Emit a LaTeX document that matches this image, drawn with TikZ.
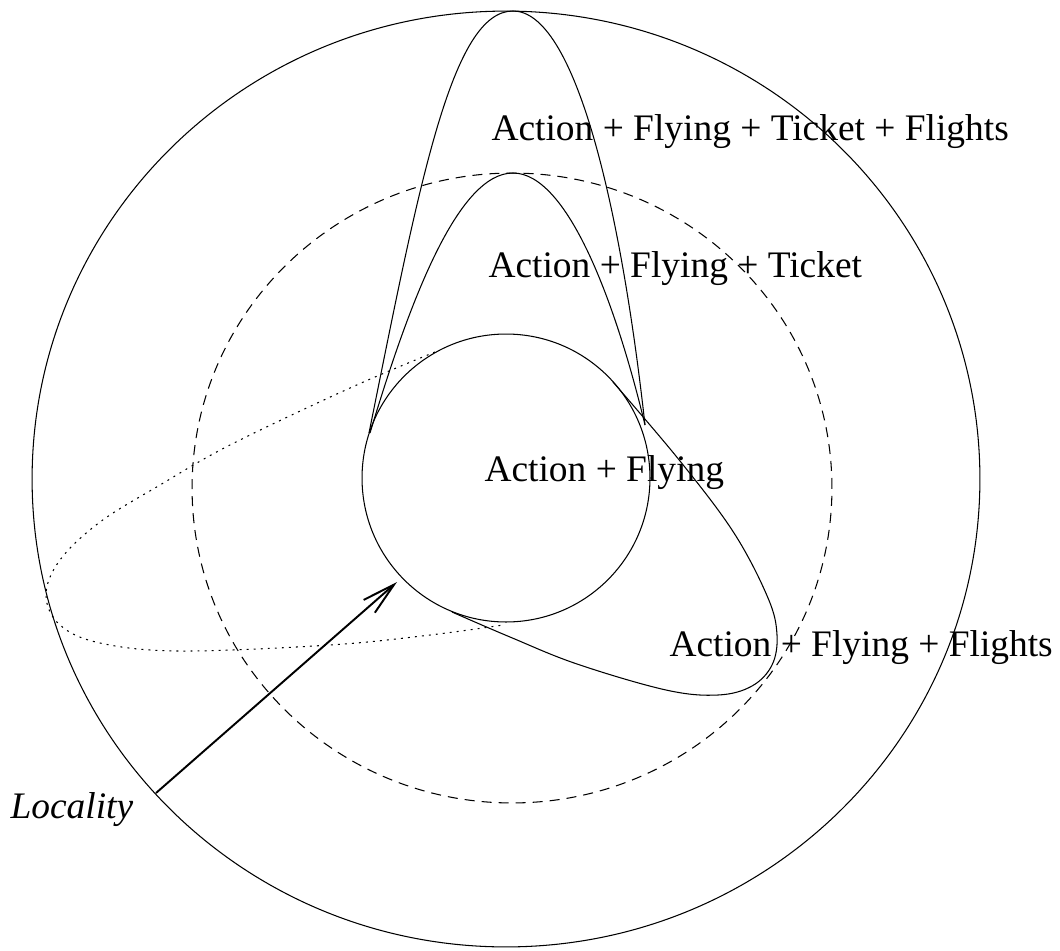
\documentclass[tikz,border=0pt]{standalone}
\usepackage{fontspec}
\setmainfont{Liberation Serif}
\usetikzlibrary{arrows.meta}

\begin{document}
\begin{tikzpicture}[x=0.02cm, y=-0.02cm, line width=0.6pt,
    settext/.style={font=\fontsize{21.3}{25}\selectfont, anchor=base west, inner sep=0pt},
    scopedash/.style={dash pattern=on 5.7pt off 4pt},
    ringdot/.style={dash pattern=on 1.1pt off 2.9pt},
    pointer/.style={line width=1.1pt, -{Straight Barb[length=6.6mm, width=3.4mm]}}]
    \useasboundingbox (0,0) rectangle (1060,950);

    % circles
    \draw (506,479) ellipse [x radius=9.48cm, y radius=9.36cm];
    \draw[scopedash] (512,488) ellipse [x radius=6.4cm, y radius=6.3cm];
    \draw (506,478) circle [radius=2.88cm];

    % teardrops
    \draw (369,433) .. controls (420,180) and (452,11) .. (513,11)
                    .. controls (574,11) and (620,200) .. (645,425);
    \draw (370,433) .. controls (410,300) and (458,173) .. (513,173)
                    .. controls (567,173) and (615,300) .. (645,425);
    \draw plot[smooth, tension=0.6] coordinates {(613,382) (680,461) (734,533) (768,598) (777,635) (772,665) (752,686) (718,695) (666,690) (577,664) (510,637) (452,612)};

    % dotted ring
    \draw[ringdot] plot[smooth, tension=0.6] coordinates {(435,352) (350,388) (230,445) (160,485) (100,522) (60,560) (46,595) (60,625) (100,643) (180,651) (330,645) (430,635) (503,625)};

    % labels
    \node[settext] (aftf) at (491,140) {Action + Flying + Ticket + Flights};
    \node[settext] (aft) at (488,277) {Action + Flying + Ticket};
    \node[settext] (af) at (484,481) {Action + Flying};
    \node[settext] (aff) at (669,656) {Action + Flying + Flights};
    \node[settext, font=\fontsize{21.3}{25}\selectfont\itshape] (locality) at (10,818) {Locality};

    \coordinate (locstart) at (156,793);
    \coordinate (loctip) at (397,582);
    \draw[pointer] (locstart) -- (loctip);
\end{tikzpicture}
\end{document}
